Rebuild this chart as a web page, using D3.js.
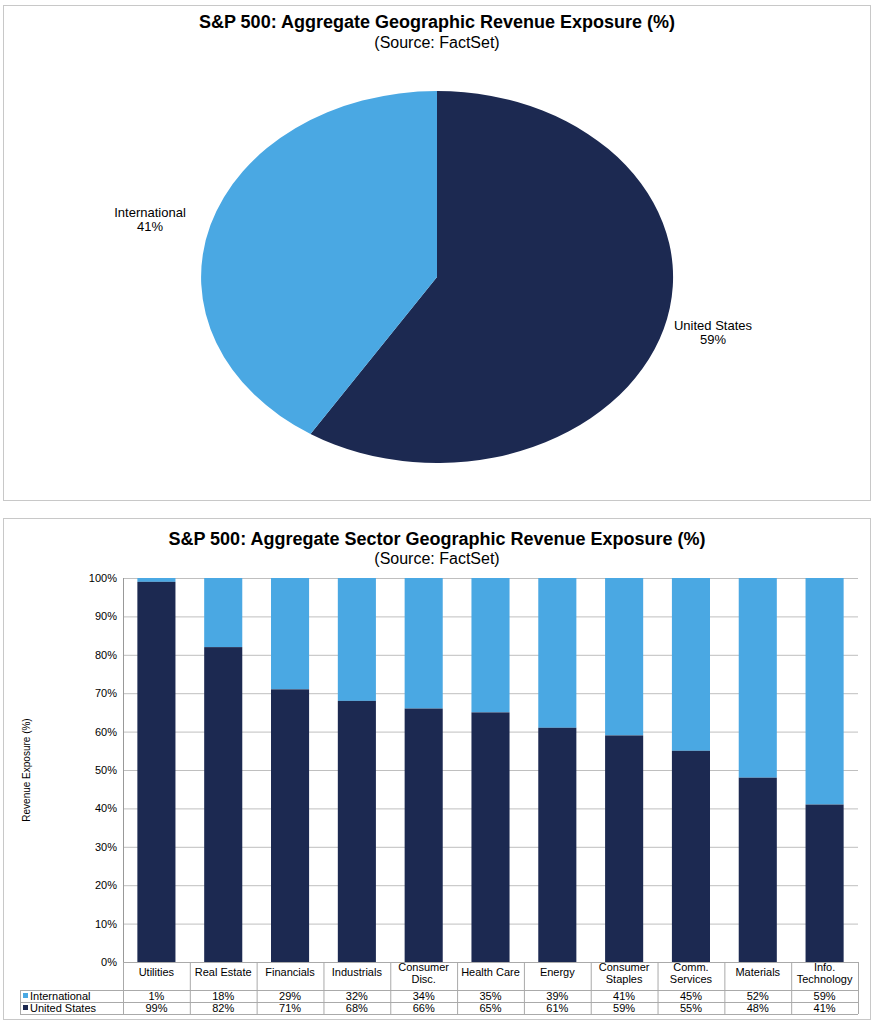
<!DOCTYPE html>
<html><head><meta charset="utf-8">
<script src="https://cdn.jsdelivr.net/npm/d3@7"></script>
<style>body{margin:0;background:#fff;font-family:"Liberation Sans",Arial,sans-serif}</style>
</head><body>
<script>
(function(){
// pie data
var pieLabels = ["United States", "International"];
var pieValues = [59, 41];

// sector data
var sectors = ["Utilities","Real Estate","Financials","Industrials","Consumer|Disc.","Health Care","Energy","Consumer|Staples","Comm.|Services","Materials","Info.|Technology"];
var intlVals = [1, 18, 29, 32, 34, 35, 39, 41, 45, 52, 59];
var usVals = [99, 82, 71, 68, 66, 65, 61, 59, 55, 48, 41];
var yTicks = [0,10,20,30,40,50,60,70,80,90,100];

var navy = "#1c2951", sky = "#4aa8e3";

var svg = d3.select("body").append("svg").attr("width", 877).attr("height", 1024);

// panel frames
svg.append("rect").attr("x", 3.5).attr("y", 5.5).attr("width", 867).attr("height", 495).style("fill", "none").style("stroke", "#c8c8c8");
svg.append("rect").attr("x", 3.5).attr("y", 518.5).attr("width", 867).attr("height", 501).style("fill", "none").style("stroke", "#c8c8c8");

// titles
function title(t, y, bold, size){
  svg.append("text").attr("x", 437).attr("y", y).attr("text-anchor", "middle")
    .style("font-size", size + "px").style("font-weight", bold ? "bold" : "normal").text(t);
}
title("S&P 500: Aggregate Geographic Revenue Exposure (%)", 28, true, 18);
title("(Source: FactSet)", 48, false, 16);
title("S&P 500: Aggregate Sector Geographic Revenue Exposure (%)", 545, true, 18);
title("(Source: FactSet)", 564, false, 16);

// ---- pie (drawn as ellipse like the original) ----
var cx = 437, cy = 277, rx = 236, ry = 186;
var pie = d3.pie().sort(null)(pieValues);
var arc = d3.arc().innerRadius(0).outerRadius(1);
var pg = svg.append("g").attr("transform", "translate(" + cx + "," + cy + ") scale(" + rx + "," + ry + ")");
pg.selectAll("path").data(pie).enter().append("path")
  .attr("d", arc).style("fill", function(d, i){ return i === 0 ? navy : sky; });

var pieLab = [[713, 330], [150, 217]];
pieLabels.forEach(function(l, i){
  var t = svg.append("text").attr("text-anchor", "middle").attr("y", pieLab[i][1]).style("font-size", "13px");
  t.append("tspan").attr("x", pieLab[i][0]).text(l);
  t.append("tspan").attr("x", pieLab[i][0]).attr("dy", 14).text(pieValues[i] + "%");
});

// ---- stacked bar ----
var pl = 123, pr = 858, pt = 578, pb = 962;
var x = d3.scaleBand().domain(sectors).range([pl, pr]).paddingInner(0.43).paddingOuter(0.215);
var xc = d3.scaleBand().domain(sectors).range([pl, pr]);
var y = d3.scaleLinear().domain([0, 100]).range([pb, pt]);

svg.append("g").selectAll("line").data(yTicks).enter().append("line")
  .attr("x1", pl).attr("x2", pr).attr("y1", function(d){ return y(d) + 0.5; }).attr("y2", function(d){ return y(d) + 0.5; })
  .style("stroke", "#bfbfbf");
svg.append("line").attr("x1", pl + 0.5).attr("x2", pl + 0.5).attr("y1", pt).attr("y2", pb).style("stroke", "#999");

svg.append("g").selectAll("text").data(yTicks).enter().append("text")
  .attr("x", pl - 6).attr("y", function(d){ return y(d) + 4; }).attr("text-anchor", "end")
  .style("font-size", "11px").text(function(d){ return d + "%"; });

svg.append("text").attr("transform", "translate(30,770) rotate(-90)").attr("text-anchor", "middle")
  .style("font-size", "10px").style("font-family", "'Liberation Sans Narrow',Arial").text("Revenue Exposure (%)");

svg.append("g").selectAll("rect").data(sectors).enter().append("rect")
  .attr("x", function(d){ return x(d); }).attr("width", x.bandwidth())
  .attr("y", y(100)).attr("height", function(d, i){ return y(usVals[i]) - y(100); }).style("fill", sky);
svg.append("g").selectAll("rect").data(sectors).enter().append("rect")
  .attr("x", function(d){ return x(d); }).attr("width", x.bandwidth())
  .attr("y", function(d, i){ return y(usVals[i]); }).attr("height", function(d, i){ return pb - y(usVals[i]); }).style("fill", navy);

// data table
var rowY = [962, 990, 1002, 1014];
var tg = svg.append("g").style("stroke", "#aaa");
rowY.forEach(function(r, i){
  tg.append("line").attr("x1", i === 0 ? pl : 20).attr("x2", pr).attr("y1", r + 0.5).attr("y2", r + 0.5);
});
tg.append("line").attr("x1", 20.5).attr("x2", 20.5).attr("y1", 990).attr("y2", 1014);
for (var k = 0; k <= sectors.length; k++) {
  var xx = pl + k * xc.bandwidth();
  tg.append("line").attr("x1", xx + 0.5).attr("x2", xx + 0.5).attr("y1", 962).attr("y2", 1014);
}
sectors.forEach(function(s, i){
  var mx = xc(s) + xc.bandwidth() / 2;
  var parts = s.split("|");
  var t = svg.append("text").attr("text-anchor", "middle").style("font-size", "11px");
  parts.forEach(function(p, j){
    t.append("tspan").attr("x", mx).attr("y", (parts.length === 1 ? 976 : 971) + j * 12).text(p);
  });
  svg.append("text").attr("x", mx).attr("y", 1000).attr("text-anchor", "middle").style("font-size", "11px").text(intlVals[i] + "%");
  svg.append("text").attr("x", mx).attr("y", 1012).attr("text-anchor", "middle").style("font-size", "11px").text(usVals[i] + "%");
});
[["International", sky, 1000], ["United States", navy, 1012]].forEach(function(r){
  svg.append("rect").attr("x", 23).attr("y", r[2] - 7).attr("width", 5).attr("height", 5).style("fill", r[1]);
  svg.append("text").attr("x", 30).attr("y", r[2]).style("font-size", "11px").text(r[0]);
});
})();
</script>
</body></html>
